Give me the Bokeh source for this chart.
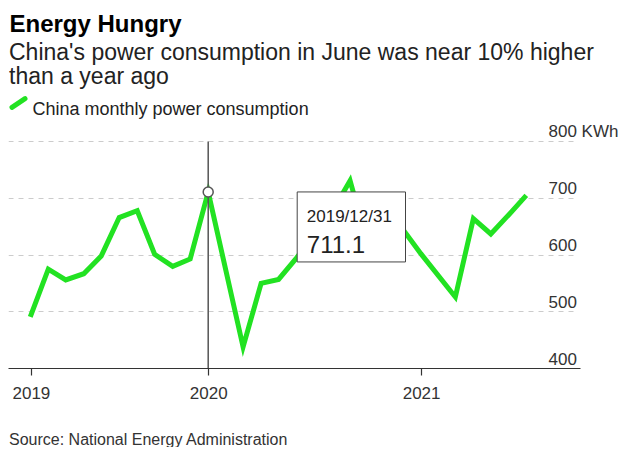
import pandas as pd
from bokeh.plotting import figure
from bokeh.models import (Range1d, FixedTicker, Label, BoxAnnotation, Arrow, Title, Grid)
from bokeh.embed import file_html
from bokeh.resources import INLINE

# ---------------- data ----------------
dates = ["2019-02-28", "2019-03-31", "2019-04-30", "2019-05-31", "2019-06-30",
         "2019-07-31", "2019-08-31", "2019-09-30", "2019-10-31", "2019-11-30",
         "2019-12-31",
         "2020-02-29", "2020-03-31", "2020-04-30", "2020-05-31", "2020-06-30",
         "2020-07-31", "2020-08-31", "2020-09-30", "2020-10-31", "2020-11-30",
         "2020-12-31",
         "2021-02-28", "2021-03-31", "2021-04-30", "2021-05-31", "2021-06-30"]
consumption = [491, 575, 556, 567, 598, 666, 678, 601, 580, 593, 711.1,
               438, 550, 557, 595, 635, 676, 731, 620, 600, 645, 602,
               526, 664, 637, 671, 705]
x_tick_dates = ["2019-03-02", "2020-01-01", "2021-01-01"]
x_tick_labels = ["2019", "2020", "2021"]
y_ticks = [400, 500, 600, 700, 800]
y_tick_labels = ["400", "500", "600", "700", "800 KWh"]
hover_date = "2019-12-31"
hover_value = 711.1

title = "Energy Hungry"
subtitle1 = "China's power consumption in June was near 10% higher"
subtitle2 = "than a year ago"
legend_text = "China monthly power consumption"
source = "Source: National Energy Administration"

FONT = "Liberation Sans"
GREEN = "#22E222"

# ---------------- layout constants (pixels) ----------------
FRAME_LEFT = 8          # page x of frame left
FRAME_W = 622           # frame spans to the right edge
FRAME_H = 368           # frame from the top down to the x axis
PX_PER_DAY = 0.5815
HOVER_PX = 207.7 - FRAME_LEFT   # frame x of the hovered point
PX_PER_UNIT = 227 / (y_ticks[-1] - y_ticks[0])
AXIS_END_PX = 580 - FRAME_LEFT
GRID_END_PX = 575 - FRAME_LEFT

hover_ts = pd.Timestamp(hover_date)
x_start = hover_ts - pd.Timedelta(days=HOVER_PX / PX_PER_DAY)
x_end = x_start + pd.Timedelta(days=FRAME_W / PX_PER_DAY)
axis_end = x_start + pd.Timedelta(days=AXIS_END_PX / PX_PER_DAY)
grid_end = x_start + pd.Timedelta(days=GRID_END_PX / PX_PER_DAY)
y_start = y_ticks[0]
y_end = y_start + FRAME_H / PX_PER_UNIT

def ms(t):
    return pd.Timestamp(t).value / 1e6

x = pd.to_datetime(dates)

p = figure(frame_width=FRAME_W, frame_height=FRAME_H, output_backend="svg",
           toolbar_location=None, x_axis_type="datetime", y_axis_location=None,
           x_range=Range1d(x_start, x_end), y_range=Range1d(y_start, y_end),
           min_border=0, min_border_left=FRAME_LEFT)
p.outline_line_color = None
p.background_fill_color = "white"
p.border_fill_color = "white"

# grid
p.xgrid.visible = False
p.ygrid.visible = False
grid = Grid(dimension=1, ticker=FixedTicker(ticks=y_ticks[1:]),
            grid_line_color="#cccccc", grid_line_dash="5 5", grid_line_width=1)
if "cross_bounds" in Grid.properties():
    grid.cross_bounds = (ms(x_start), ms(grid_end))
p.add_layout(grid, "center")

# x axis
tick_ms = [ms(d) for d in x_tick_dates]
xa = p.xaxis[0]
xa.bounds = (x_start, axis_end)
xa.ticker = FixedTicker(ticks=tick_ms)
xa.major_label_overrides = {t: l for t, l in zip(tick_ms, x_tick_labels)}
xa.axis_line_color = "#333333"
xa.axis_line_width = 1.2
xa.major_tick_line_color = "#333333"
xa.major_tick_line_width = 1.2
xa.major_tick_out = 7
xa.major_tick_in = 0
xa.minor_tick_out = 0
xa.minor_tick_in = 0
xa.major_label_text_font = FONT
xa.major_label_text_font_size = "17px"
xa.major_label_text_color = "#333333"
xa.major_label_standoff = 11
# blank axis label used only as vertical spacing before the source line
xa.axis_label = " "
xa.axis_label_text_font_size = "16px"
xa.axis_label_standoff = 7

# data line
p.line(x, consumption, line_color=GREEN, line_width=5, line_join="miter")

# crosshair + hovered point
p.segment(x0=[hover_ts], y0=[y_ticks[0]], x1=[hover_ts], y1=[y_ticks[-1]],
          line_color="#555555", line_width=1.5)
pt = p.scatter([hover_ts], [hover_value], size=10, fill_color="white",
               line_color="#555555", line_width=1.5)
pt.level = "overlay"

# tooltip box (placed in pixels relative to the hovered point)
px_per_ms = PX_PER_DAY / 86400000
box = BoxAnnotation(left=ms(hover_ts) + 89 / px_per_ms, right=ms(hover_ts) + 197.3 / px_per_ms,
                    top=hover_value, bottom=hover_value - 70 / PX_PER_UNIT,
                    fill_color="white", fill_alpha=1.0, line_color="#444444",
                    line_width=1, line_alpha=1.0, level="overlay")
p.add_layout(box)
p.add_layout(Label(x=ms(hover_ts), y=hover_value, x_offset=98.6, y_offset=-24.7,
                   text=hover_ts.strftime("%Y/%m/%d"),
                   text_font=FONT, text_font_size="17px", text_color="#222222",
                   text_baseline="alphabetic", level="overlay"))
p.add_layout(Label(x=ms(hover_ts), y=hover_value, x_offset=98.6, y_offset=-53,
                   text=f"{hover_value:.1f}",
                   text_font=FONT, text_font_size="24px", text_color="#222222",
                   text_baseline="alphabetic", level="overlay"))

# y tick labels, sitting above their gridlines
for v, lab in zip(y_ticks, y_tick_labels):
    p.add_layout(Label(x=540, x_units="screen", y=v, y_units="data", y_offset=10,
                       text=lab, text_font=FONT, text_font_size="17px",
                       text_color="#333333", text_baseline="alphabetic"))

# headings (screen units: from the frame's bottom-left, upward)
def top_y(page_y):
    return FRAME_H - page_y

p.add_layout(Label(x=1, y=top_y(22.7), x_units="screen", y_units="screen", text=title,
                   text_font=FONT, text_font_size="24px", text_font_style="bold",
                   text_color="#000000", text_baseline="alphabetic"))
p.add_layout(Label(x=0.5, y=top_y(51.7), x_units="screen", y_units="screen", text=subtitle1,
                   text_font=FONT, text_font_size="23px", text_color="#222222",
                   text_baseline="alphabetic"))
p.add_layout(Label(x=0.5, y=top_y(75.5), x_units="screen", y_units="screen", text=subtitle2,
                   text_font=FONT, text_font_size="23px", text_color="#222222",
                   text_baseline="alphabetic"))
p.add_layout(Arrow(x_start=3.5, y_start=top_y(106.8), x_end=16.5, y_end=top_y(98.2),
                   start_units="screen", end_units="screen", start=None, end=None,
                   line_color=GREEN, line_width=5, line_cap="round"))
p.add_layout(Label(x=24, y=top_y(108.3), x_units="screen", y_units="screen", text=legend_text,
                   text_font=FONT, text_font_size="18px", text_color="#222222",
                   text_baseline="alphabetic"))

# source line below the axis
p.add_layout(Title(text=source, align="left", offset=0.5, text_font=FONT,
                   text_font_size="16px", text_font_style="normal",
                   text_color="#333333", standoff=0), "below")

open("out.html", "w").write(file_html(p, INLINE))
